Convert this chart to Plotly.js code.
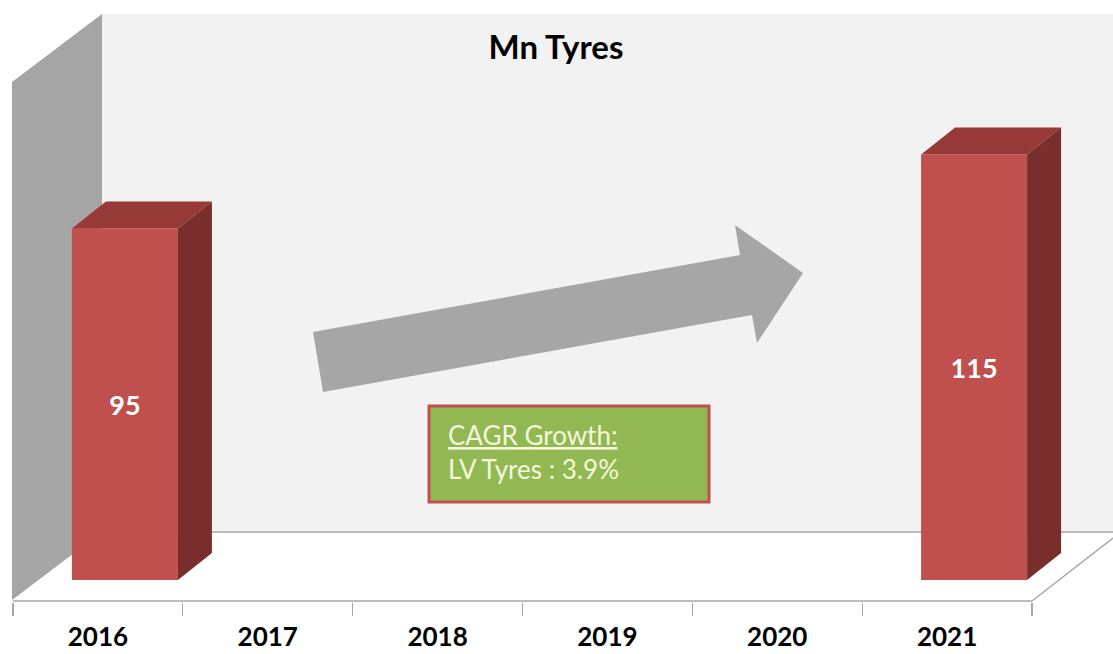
<!DOCTYPE html>
<html><head><meta charset="utf-8">
<script src="https://cdn.plot.ly/plotly-3.0.1.min.js"></script>
<style>html,body{margin:0;padding:0;background:#fff}#chart{width:1113px;height:654px}</style>
</head><body><div id="chart"></div>
<script>
// ---- data ----
const years = [2016, 2017, 2018, 2019, 2020, 2021];
const tickLabels = ['2016', '2017', '2018', '2019', '2020', '2021'];
const values = [95, null, null, null, null, 115];
const chartTitle = 'Mn Tyres';
const noteTitle = 'CAGR Growth:';
const noteText = 'LV Tyres : 3.9%';

// ---- geometry (layout only) ----
const W = 1113, H = 654, PLOT_B = 602;
const PX_PER_CAT = 1019 / 6;
const PX_PER_UNIT = 3.7;
const xmin = 2015.5 - 13 / PX_PER_CAT, xmax = 2021.5 + 81 / PX_PER_CAT;
const ymin = -22 / PX_PER_UNIT, ymax = ymin + PLOT_B / PX_PER_UNIT;
const BAR_W = 106 / PX_PER_CAT, BAR_SHIFT = 27 / PX_PER_CAT;
const BAR_OFF = -BAR_W / 2 + BAR_SHIFT;
const DX = 34 / PX_PER_CAT, DY = 27 / PX_PER_UNIT;

const FONT = 'Lato, "Open Sans", sans-serif';
const px = p => p / W;
const py = p => (PLOT_B - p) / PLOT_B;
const path = pts => 'M ' + pts.map(p => px(p[0]) + ',' + py(p[1])).join(' L ') + ' Z';

// ---- 3D faces built from the data ----
const topX = [], topY = [], sideX = [], sideY = [];
years.forEach((x, i) => {
  const v = values[i];
  if (v === null) return;
  const L = x + BAR_OFF, R = L + BAR_W;
  topX.push(L, R, R + DX, L + DX, L, null);
  topY.push(v, v, v + DY, v + DY, v, null);
  sideX.push(R, R, R + DX, R + DX, R, null);
  sideY.push(0, v, v + DY, DY, 0, null);
});

const traces = [
  {
    type: 'bar', x: years, y: values, base: 0,
    width: BAR_W, offset: BAR_OFF,
    marker: {color: '#c0504d', line: {width: 0}},
    text: values.map(v => v === null ? '' : String(v)),
    textposition: 'inside', insidetextanchor: 'middle', textangle: 0,
    textfont: {family: FONT, size: 27, color: '#ffffff', weight: 'bold'},
    hoverinfo: 'skip'
  },
  {
    type: 'scatter', mode: 'lines', x: topX, y: topY, fill: 'toself',
    fillcolor: '#973a37', line: {width: 0, color: '#973a37'}, hoverinfo: 'skip'
  },
  {
    type: 'scatter', mode: 'lines', x: sideX, y: sideY, fill: 'toself',
    fillcolor: '#7a2e2c', line: {width: 0, color: '#7a2e2c'}, hoverinfo: 'skip'
  }
];

const gridColor = '#a6a6a6';
const shapes = [
  // back wall
  {type: 'path', xref: 'paper', yref: 'paper', layer: 'below',
   path: path([[102, 14], [1113, 14], [1113, 532], [102, 532]]),
   fillcolor: '#f2f2f2', line: {width: 0}},
  // left side wall
  {type: 'path', xref: 'paper', yref: 'paper', layer: 'below',
   path: path([[12, 82], [102, 14], [102, 532], [12, 600]]),
   fillcolor: '#a5a5a5', line: {width: 0}},
  // floor edges
  {type: 'line', xref: 'paper', yref: 'paper', layer: 'below',
   x0: px(102), y0: py(532), x1: px(1113), y1: py(532), line: {color: gridColor, width: 1.5}},
  {type: 'line', xref: 'paper', yref: 'paper', layer: 'below',
   x0: px(13), y0: py(601), x1: px(1032), y1: py(601), line: {color: gridColor, width: 1.5}},
  {type: 'line', xref: 'paper', yref: 'paper', layer: 'below',
   x0: px(1032), y0: py(601), x1: px(1113), y1: py(538), line: {color: gridColor, width: 1.5}},
  // growth arrow
  {type: 'path', xref: 'paper', yref: 'paper', layer: 'above',
   path: path([[313, 332], [740, 255], [735, 225], [803, 273], [757, 343], [752, 315], [323, 392]]),
   fillcolor: '#a6a6a6', line: {width: 0}},
  // note box
  {type: 'rect', xref: 'paper', yref: 'paper', layer: 'above',
   x0: px(429), y0: py(406), x1: px(709), y1: py(502),
   fillcolor: '#92b853', line: {color: '#c0504d', width: 3}}
];

const annotations = [
  {xref: 'paper', yref: 'paper', x: px(446), y: py(435), xanchor: 'left', yanchor: 'middle',
   text: '<span style="text-decoration:underline">' + noteTitle + '</span>', showarrow: false,
   font: {family: FONT, size: 26, color: '#f4f8dc'}},
  {xref: 'paper', yref: 'paper', x: px(446), y: py(469), xanchor: 'left', yanchor: 'middle',
   text: noteText, showarrow: false,
   font: {family: FONT, size: 26, color: '#f4f8dc'}}
];

const layout = {
  width: W, height: H,
  margin: {l: 0, r: 0, t: 0, b: H - PLOT_B, pad: 0},
  paper_bgcolor: '#ffffff', plot_bgcolor: 'rgba(0,0,0,0)',
  showlegend: false,
  title: {text: chartTitle, x: px(556), xanchor: 'center', xref: 'paper',
          y: 1 - 47 / H, yanchor: 'middle', yref: 'container',
          font: {family: FONT, size: 33, color: '#000000', weight: 'bold'}},
  xaxis: {
    type: 'linear', range: [xmin, xmax], fixedrange: true,
    tickmode: 'array', tickvals: years, ticktext: tickLabels,
    ticks: '', showgrid: false, zeroline: false, showline: false,
    tickfont: {family: FONT, size: 26, color: '#000000', weight: 'bold'},
    ticklabelstandoff: 17,
    minor: {tickmode: 'array', tickvals: years.map(y => y - 0.5).concat([years[years.length - 1] + 0.5]),
            ticks: 'outside', ticklen: 13, tickwidth: 1.2, tickcolor: gridColor, showgrid: false}
  },
  yaxis: {range: [ymin, ymax], visible: false, fixedrange: true},
  shapes: shapes,
  annotations: annotations
};

Plotly.newPlot('chart', traces, layout, {staticPlot: true, displayModeBar: false});
</script></body></html>
